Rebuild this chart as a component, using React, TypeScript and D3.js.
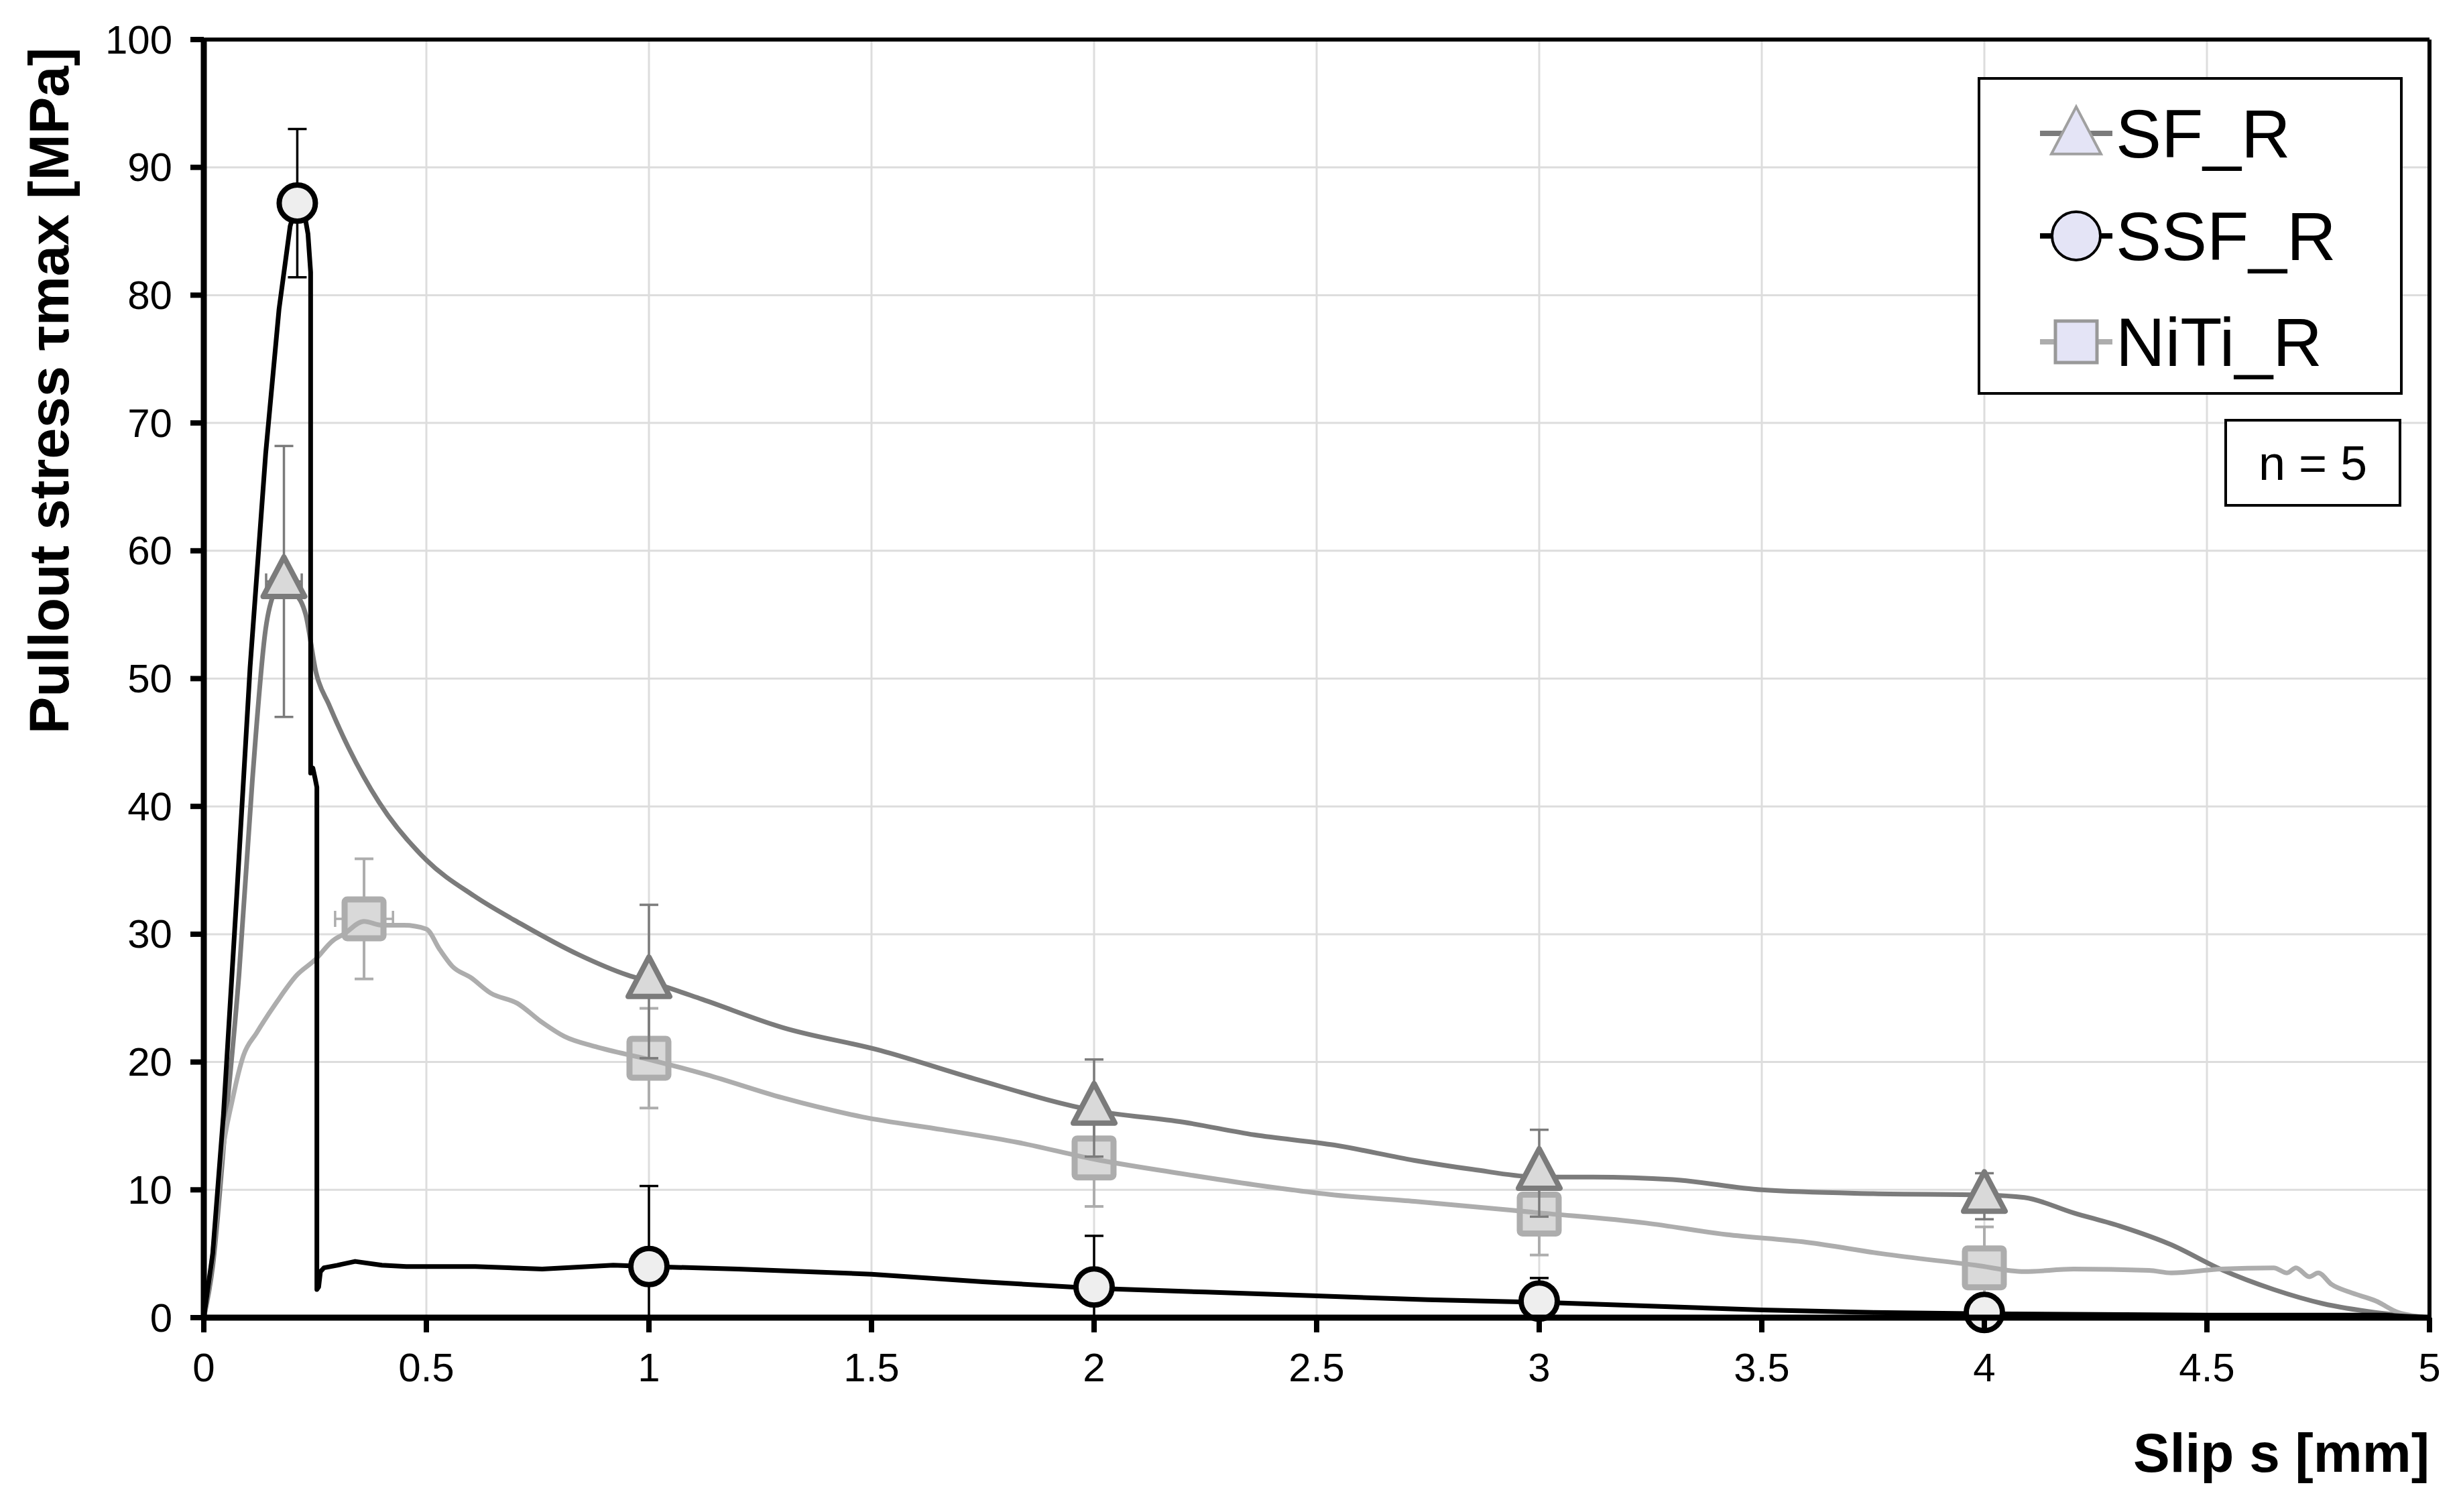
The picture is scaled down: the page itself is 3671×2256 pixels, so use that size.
import React, { useEffect } from 'react'
import * as d3 from 'd3'

// measured curves [slip mm, stress MPa]
const sfCurve: [number, number][] = [
  [0, 0], [0.02, 4], [0.049, 15.2], [0.079, 26.8], [0.109, 42], [0.139, 53.9], [0.159, 56.8],
  [0.179, 57.6], [0.2, 56.9], [0.229, 55], [0.252, 50.5], [0.282, 47.9], [0.325, 44.6], [0.394, 40.3],
  [0.5, 35.8], [0.607, 33.0], [0.713, 30.8], [0.842, 28.4], [0.952, 26.8], [1.0, 26.3],
  [1.12, 24.9], [1.3, 22.7], [1.52, 20.9], [1.73, 18.7], [2.0, 16.2], [2.2, 15.3], [2.36, 14.3],
  [2.54, 13.5], [2.72, 12.3], [2.85, 11.6], [3.0, 11.0], [3.12, 11.0], [3.3, 10.8], [3.5, 10.0],
  [3.75, 9.7], [4.0, 9.6], [4.09, 9.4], [4.2, 8.2], [4.31, 7.1], [4.42, 5.7], [4.53, 3.8],
  [4.65, 2.2], [4.76, 1.1], [4.88, 0.4], [5.0, 0],
]

const ssfCurve: [number, number][] = [
  [0, 0], [0.02, 5], [0.044, 15.8], [0.074, 33], [0.104, 50.9], [0.139, 67.6], [0.169, 78.9],
  [0.194, 85.4], [0.21, 87.3], [0.225, 86.6], [0.234, 84.8], [0.24, 81.8], [0.24, 42.6],
  [0.245, 43], [0.25, 42.2], [0.254, 41.5], [0.254, 2.2], [0.258, 2.4], [0.262, 3.6], [0.27, 3.9],
  [0.3, 4.1], [0.34, 4.4], [0.4, 4.1], [0.455, 4.0], [0.61, 4.0], [0.76, 3.8], [0.92, 4.1],
  [1.0, 4.0], [1.2, 3.8], [1.5, 3.4], [1.75, 2.8], [2.0, 2.3], [2.25, 2.0], [2.5, 1.7], [2.75, 1.4],
  [3.0, 1.2], [3.25, 0.9], [3.5, 0.6], [3.75, 0.4], [4.0, 0.3], [4.5, 0.2], [4.9, 0.2], [5.0, 0],
]

const nitiCurve: [number, number][] = [
  [0, 0], [0.02, 5], [0.039, 12.2], [0.064, 17], [0.089, 20.5], [0.119, 22.3], [0.164, 24.7],
  [0.209, 26.8], [0.25, 28], [0.29, 29.5], [0.314, 30], [0.36, 31], [0.4, 30.7], [0.45, 30.7],
  [0.5, 30.4], [0.53, 28.8], [0.558, 27.5], [0.6, 26.6], [0.644, 25.4], [0.704, 24.6],
  [0.76, 23.1], [0.81, 22.0], [0.88, 21.2], [1.0, 20.2],
  [1.13, 19.0], [1.3, 17.2], [1.48, 15.7], [1.66, 14.7], [1.83, 13.7], [2.0, 12.4], [2.19, 11.3],
  [2.36, 10.4], [2.54, 9.6], [2.72, 9.1], [3.0, 8.2], [3.24, 7.4], [3.42, 6.5], [3.6, 5.9],
  [3.77, 5.0], [3.98, 4.1], [4.09, 3.6], [4.2, 3.8], [4.37, 3.7], [4.42, 3.5], [4.53, 3.8],
  [4.65, 3.9], [4.68, 3.5], [4.7, 3.9], [4.73, 3.2], [4.75, 3.5], [4.78, 2.6], [4.82, 2.0],
  [4.88, 1.3], [4.93, 0.4], [5.0, 0],
]

// mean values with standard deviation (n = 5)
const sfSlip = [0.18, 1, 2, 3, 4]
const sfMean = [57.6, 26.3, 16.4, 11.3, 9.5]
const sfErr = [10.6, 6, 3.8, 3.4, 1.8]
const sfSlipErr = [0.04, 0, 0, 0, 0]

const ssfSlip = [0.21, 1, 2, 3, 4]
const ssfMean = [87.2, 4.0, 2.4, 1.3, 0.4]
const ssfErr = [5.8, 6.3, 4.0, 1.8, 0.5]

const nitiSlip = [0.36, 1, 2, 3, 4]
const nitiMean = [31.2, 20.3, 12.5, 8.1, 3.9]
const nitiErr = [4.7, 3.9, 3.8, 3.2, 3.2]
const nitiSlipErr = [0.065, 0, 0, 0, 0]

const xTicks = [0, 0.5, 1, 1.5, 2, 2.5, 3, 3.5, 4, 4.5, 5]
const yTicks = [0, 10, 20, 30, 40, 50, 60, 70, 80, 90, 100]
const legendNames = ['SF_R', 'SSF_R', 'NiTi_R']

const FONT = '"Liberation Sans", Arial, sans-serif'

function App() {
  useEffect(() => {
    document.body.style.margin = '0'
  }, [])

  const width = 3671
  const height = 2256
  const left = 304
  const right = 3624
  const top = 59
  const bottom = 1966

  const x = d3.scaleLinear().domain([0, 5]).range([left, right])
  const y = d3.scaleLinear().domain([0, 100]).range([bottom, top])
  const line = d3.line<[number, number]>().x(d => x(d[0])).y(d => y(Math.max(0, d[1])))
  // smooth version for the curves without vertical drops
  const smooth = d3.line<[number, number]>().x(d => x(d[0])).y(d => y(Math.max(0, d[1]))).curve(d3.curveMonotoneX)

  const sfColor = '#7b7b7b'
  const nitiColor = '#adadad'
  const markerFill = '#d9d9d9'

  const tri = (cx: number, cy: number, s: number) => {
    const h = s * 0.95
    return `M${cx},${cy - h * 0.62} L${cx + s / 2},${cy + h * 0.38} L${cx - s / 2},${cy + h * 0.38} Z`
  }

  const errBar = (sx: number, m: number, e: number, color: string, w: number, key: string) => {
    const lo = Math.max(0, m - e)
    const hi = m + e
    return (
      <g key={key} stroke={color} strokeWidth={w}>
        <line x1={x(sx)} x2={x(sx)} y1={y(lo)} y2={y(hi)} />
        <line x1={x(sx) - 14} x2={x(sx) + 14} y1={y(hi)} y2={y(hi)} />
        {m - e > 0 && <line x1={x(sx) - 14} x2={x(sx) + 14} y1={y(lo)} y2={y(lo)} />}
      </g>
    )
  }

  const slipBar = (sx: number, m: number, e: number, color: string, key: string) => (
    <g key={key} stroke={color} strokeWidth={3.5}>
      <line x1={x(sx - e)} x2={x(sx + e)} y1={y(m)} y2={y(m)} />
      <line x1={x(sx - e)} x2={x(sx - e)} y1={y(m) - 12} y2={y(m) + 12} />
      <line x1={x(sx + e)} x2={x(sx + e)} y1={y(m) - 12} y2={y(m) + 12} />
    </g>
  )

  const legendY = [199, 352, 510]

  return (
    <svg width={width} height={height} style={{ display: 'block', background: '#fff' }} fontFamily={FONT}>
      <rect x={0} y={0} width={width} height={height} fill="#fff" />

      {/* grid */}
      {xTicks.map(t => (
        <line key={`gx${t}`} x1={x(t)} x2={x(t)} y1={top} y2={bottom} stroke="#dddddd" strokeWidth={3} />
      ))}
      {yTicks.map(t => (
        <line key={`gy${t}`} x1={left} x2={right} y1={y(t)} y2={y(t)} stroke="#dddddd" strokeWidth={3} />
      ))}

      {/* NiTi markers below its curve */}
      {nitiSlip.map((s, i) => (
        <g key={`ne${i}`}>
          {errBar(s, nitiMean[i], nitiErr[i], nitiColor, 4, `nev${i}`)}
          {nitiSlipErr[i] > 0 && slipBar(s, nitiMean[i], nitiSlipErr[i], nitiColor, `neh${i}`)}
          <rect x={x(s) - 29} y={y(nitiMean[i]) - 29} width={58} height={58} rx={4}
            fill={markerFill} stroke={nitiColor} strokeWidth={9} />
        </g>
      ))}

      {/* curves */}
      <path d={smooth(sfCurve) || ''} fill="none" stroke={sfColor} strokeWidth={7} strokeLinejoin="round" />
      <path d={smooth(nitiCurve) || ''} fill="none" stroke={nitiColor} strokeWidth={7} strokeLinejoin="round" />
      <path d={line(ssfCurve) || ''} fill="none" stroke="#000" strokeWidth={7} strokeLinejoin="round" />

      {/* SF markers */}
      {sfSlip.map((s, i) => (
        <g key={`sf${i}`}>
          {errBar(s, sfMean[i], sfErr[i], sfColor, 3.5, `sfe${i}`)}
          {sfSlipErr[i] > 0 && slipBar(s, sfMean[i], sfSlipErr[i], sfColor, `sfh${i}`)}
          <path d={tri(x(s), y(sfMean[i]), 62)} fill={markerFill} stroke={sfColor} strokeWidth={8} strokeLinejoin="round" />
        </g>
      ))}

      {/* SSF markers */}
      {ssfSlip.map((s, i) => (
        <g key={`ssf${i}`}>
          {errBar(s, ssfMean[i], ssfErr[i], '#000', 3.5, `ssfe${i}`)}
          <circle cx={x(s)} cy={y(ssfMean[i])} r={27} fill="#eeeeee" stroke="#000" strokeWidth={8} />
        </g>
      ))}

      {/* frame */}
      <line x1={left} x2={right} y1={top} y2={top} stroke="#000" strokeWidth={6} />
      <line x1={right} x2={right} y1={top} y2={bottom} stroke="#000" strokeWidth={6} />
      <line x1={left} x2={left} y1={top - 3} y2={bottom + 4} stroke="#000" strokeWidth={9} />
      <line x1={left - 4} x2={right + 3} y1={bottom} y2={bottom} stroke="#000" strokeWidth={9} />

      {/* y axis */}
      {yTicks.map(t => (
        <g key={`yt${t}`}>
          <line x1={left - 20} x2={left} y1={y(t)} y2={y(t)} stroke="#000" strokeWidth={8} />
          <text x={257} y={y(t)} textAnchor="end" dominantBaseline="central" fontSize={60}>{t}</text>
        </g>
      ))}
      {/* x axis */}
      {xTicks.map(t => (
        <g key={`xt${t}`}>
          <line x1={x(t)} x2={x(t)} y1={bottom} y2={bottom + 22} stroke="#000" strokeWidth={8} />
          <text x={x(t)} y={2061} textAnchor="middle" fontSize={60}>{t}</text>
        </g>
      ))}

      <text x={right} y={2196} textAnchor="end" fontSize={82} fontWeight="bold">Slip s [mm]</text>
      <text transform={`translate(102 583) rotate(-90)`} textAnchor="middle" fontSize={83} fontWeight="bold">
        Pullout stress τmax [MPa]
      </text>

      {/* legend */}
      <rect x={2952} y={117} width={630} height={470} fill="#fff" stroke="#000" strokeWidth={4} />
      {legendNames.map((name, i) => {
        const cy = legendY[i]
        const cx = 3097
        const col = i === 0 ? sfColor : i === 1 ? '#000' : nitiColor
        return (
          <g key={name}>
            <line x1={3043} x2={3151} y1={cy} y2={cy} stroke={col} strokeWidth={8} />
            {i === 0 && <path d={tri(cx, cy + 4, 74)} fill="#e4e4f6" stroke="#a0a0a0" strokeWidth={4} />}
            {i === 1 && <circle cx={cx} cy={cy} r={36} fill="#e4e4f6" stroke="#000" strokeWidth={4} />}
            {i === 2 && <rect x={cx - 31} y={cy - 31} width={62} height={62} fill="#e4e4f6" stroke="#999" strokeWidth={5} />}
            <text x={3156} y={cy + 36} fontSize={102}>{name}</text>
          </g>
        )
      })}

      <rect x={3320} y={627} width={260} height={127} fill="#fff" stroke="#000" strokeWidth={4} />
      <text x={3450} y={716} textAnchor="middle" fontSize={72}>n = 5</text>
    </svg>
  )
}

export default App
